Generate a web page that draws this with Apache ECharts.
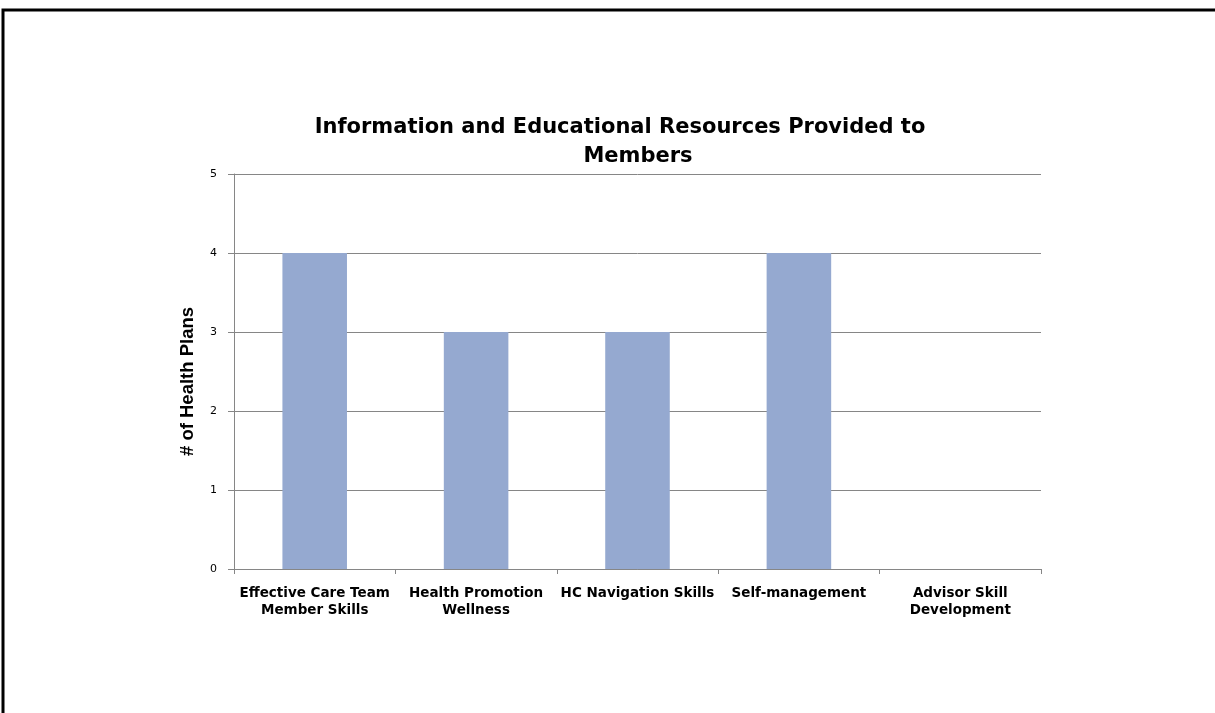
<!DOCTYPE html>
<html>
<head>
<meta charset="utf-8">
<script src="https://cdn.jsdelivr.net/npm/echarts@6/dist/echarts.min.js"></script>
<style>
  html, body { margin: 0; padding: 0; background: #fff; }
  #chart { width: 1215px; height: 713px; }
</style>
</head>
<body>
<div id="chart"></div>
<script>
// Resource categories and number of health plans offering each
const categories = [
  'Effective Care Team\nMember Skills',
  'Health Promotion\nWellness',
  'HC Navigation Skills',
  'Self-management',
  'Advisor Skill\nDevelopment'
];
const planCounts = [4, 3, 3, 4, 0];
const yTicks = [0, 1, 2, 3, 4, 5];
const titleLines = ['Information and Educational Resources Provided to', 'Members'];

const chart = echarts.init(document.getElementById('chart'), null, { renderer: 'canvas' });
const wideFont = '"DejaVu Sans", "Open Sans", sans-serif';
const narrowFont = '"Liberation Sans Narrow", "Liberation Sans", sans-serif';
const gray = '#868686';
const titleStyle = { fontFamily: wideFont, fontWeight: 'bold', fontSize: 21, color: '#000' };

chart.setOption({
  animation: false,
  backgroundColor: '#ffffff',
  graphic: [{
    type: 'rect',
    shape: { x: 3, y: 10, width: 1240, height: 740 },
    style: { fill: 'none', stroke: '#000', lineWidth: 3 },
    silent: true
  }],
  title: [
    { text: titleLines[0], left: 620, top: 117, textAlign: 'center', padding: 0, textStyle: titleStyle },
    { text: titleLines[1], left: 638, top: 146, textAlign: 'center', padding: 0, textStyle: titleStyle }
  ],
  grid: { left: 234, right: 174, top: 174, bottom: 144, containLabel: false },
  xAxis: {
    type: 'category',
    data: categories,
    axisLine: { lineStyle: { color: gray, width: 1 } },
    axisTick: { show: true, length: 5, lineStyle: { color: gray } },
    axisLabel: {
      interval: 0, margin: 16, color: '#000',
      fontFamily: wideFont, fontWeight: 'bold', fontSize: 13.5, lineHeight: 17
    }
  },
  yAxis: {
    type: 'value',
    min: yTicks[0],
    max: yTicks[yTicks.length - 1],
    interval: 1,
    name: '# of Health Plans',
    nameLocation: 'middle',
    nameGap: 37,
    nameTextStyle: {
      fontFamily: narrowFont, fontWeight: 'bold', fontSize: 18.5, color: '#000',
      padding: [0, 20, 0, 0]
    },
    axisLine: { show: true, lineStyle: { color: gray, width: 1 } },
    axisTick: { show: true, length: 6, lineStyle: { color: gray } },
    splitLine: { show: true, lineStyle: { color: gray, width: 1 } },
    axisLabel: { color: '#000', fontFamily: wideFont, fontSize: 11, margin: 17 }
  },
  series: [{
    type: 'bar',
    data: planCounts,
    barWidth: '40%',
    itemStyle: { color: '#95A9D0' }
  }]
});
</script>
</body>
</html>
